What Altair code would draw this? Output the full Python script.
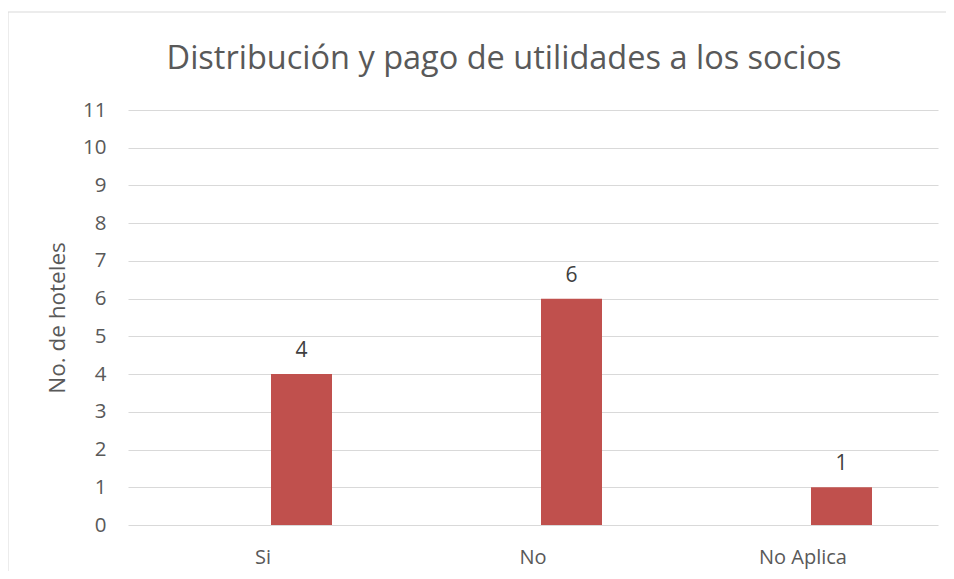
import altair as alt
import pandas as pd

categories = ["Si", "No", "No Aplica"]
values = [4, 6, 1]
y_ticks = list(range(0, 12))

df = pd.DataFrame({"categoria": categories, "hoteles": values})

FONT = "Open Sans"
GRAY = "#595959"

base = alt.Chart(df)

frame = base.mark_rect(fill=None, filled=False, stroke="#d9d9d9", strokeWidth=1).encode(
    x=alt.value(-120), x2=alt.value(840), y=alt.value(-98), y2=alt.value(480)
).transform_filter(alt.datum.categoria == "Si")

x_enc = alt.X(
    "categoria:N",
    sort=categories,
    scale=alt.Scale(paddingInner=0, paddingOuter=0),
    axis=alt.Axis(
        title=None, labelAngle=0, domain=False, ticks=False,
        labelFont=FONT, labelFontSize=20, labelColor=GRAY, labelPadding=22,
    ),
)
y_enc = alt.Y(
    "hoteles:Q",
    scale=alt.Scale(domain=[0, 11], nice=False),
    axis=alt.Axis(
        values=y_ticks, title="No. de hoteles", titleFont=FONT, titleFontSize=22.5,
        titleFontWeight="normal", titleColor=GRAY, titlePadding=13,
        labelFont=FONT, labelFontSize=20.5, labelColor=GRAY, labelPadding=22,
        domain=False, ticks=False, grid=True, gridColor="#d9d9d9", gridWidth=1,
    ),
)

bars = base.mark_bar(color="#c0504d", size=61, xOffset=38.5).encode(x=x_enc, y=y_enc)
labels = base.mark_text(
    font=FONT, fontSize=21, color="#404040", xOffset=38.5, dy=-17, baseline="alphabetic"
).encode(x=x_enc, y=y_enc, text="hoteles:Q")

chart = alt.layer(frame, bars, labels).properties(
    width=810,
    height=415,
    padding={"left": 120, "top": 102, "right": 8, "bottom": 46},
    autosize=alt.AutoSizeParams(type="none"),
    title=alt.TitleParams(
        "Distribución y pago de utilidades a los socios",
        font=FONT, fontSize=32.5, fontWeight="normal", color=GRAY,
        anchor="middle", dx=-29, offset=-90, baseline="alphabetic", frame="group",
    ),
).configure_view(stroke=None)

chart.save("out.html", embed_options={"renderer": "svg", "actions": False})
